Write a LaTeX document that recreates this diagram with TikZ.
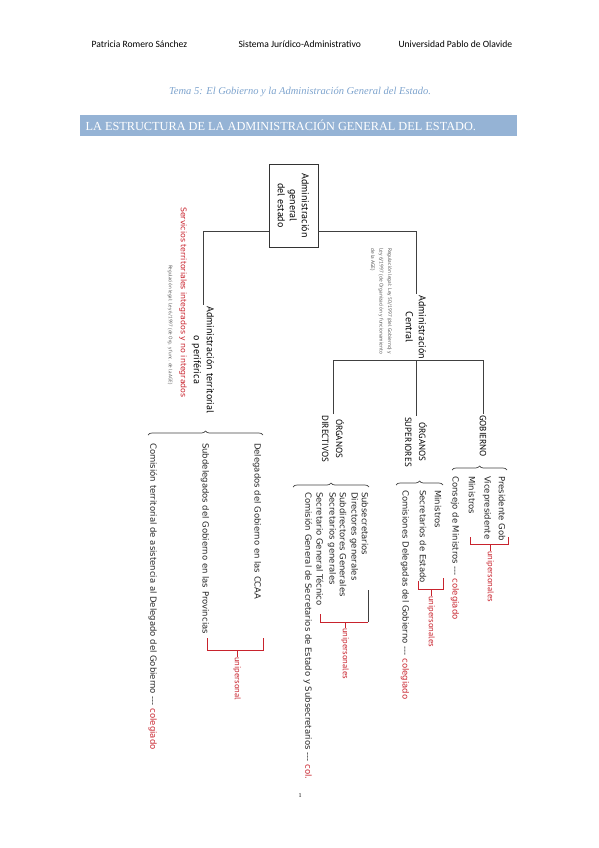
\documentclass[tikz,border=0pt]{standalone}
\usepackage{fontspec}
\setmainfont{Liberation Serif}
\newfontfamily\headfont{Carlito}
\newfontfamily\hand{PT Sans}
\newfontfamily\handw{DejaVu Sans}
\usetikzlibrary{decorations.pathreplacing}

\definecolor{inkred}{RGB}{200,35,45}
\definecolor{titleblue}{RGB}{125,163,205}
\definecolor{bannerblue}{RGB}{149,179,213}

\tikzstyle{line} = [draw=black!75, line width=0.8pt]
\tikzstyle{brc} = [draw=black!75, line width=0.7pt, decorate, decoration={brace, amplitude=4pt}]
\tikzstyle{redln} = [draw=inkred, line width=0.8pt]
\tikzstyle{hnode} = [rotate=-90, anchor=west, inner sep=1pt, align=center, font=\hand\fontsize{10}{13}\selectfont]
\tikzstyle{inode} = [rotate=-90, anchor=west, inner sep=0pt, text=black!85, font=\handw\fontsize{8.5}{10}\selectfont]
\tikzstyle{gnote} = [rotate=-90, anchor=west, inner sep=0pt, align=left, text=black!65, font=\hand\fontsize{5.3}{8.5}\selectfont]
\tikzstyle{rtext} = [rotate=-90, anchor=west, inner sep=0pt, text=inkred, font=\hand\fontsize{8.5}{10}\selectfont]

\begin{document}
\begin{tikzpicture}[x=1pt,y=-1pt]
\useasboundingbox (0,0) rectangle (599,848);

% page head
\node[anchor=west, font=\headfont\fontsize{9.6}{10}\selectfont] (author) at (88,44) {Patricia Romero Sánchez};
\node[anchor=west, font=\headfont\fontsize{9.6}{10}\selectfont] (subject) at (235,44) {Sistema Jurídico-Administrativo};
\node[anchor=west, font=\headfont\fontsize{9.6}{10}\selectfont] (univ) at (395,44) {Universidad Pablo de Olavide};
\node[text=titleblue, font=\itshape\fontsize{10.5}{12}\selectfont] (title) at (300,92) {Tema 5: El Gobierno y la Administración General del Estado.};
\node[fill=bannerblue, minimum width=437pt, minimum height=21pt, anchor=north west, inner sep=0pt] (banner) at (80,115) {};
\node[anchor=west, text=white, font=\fontsize{12.3}{13}\selectfont] (bannertxt) at (82,125.5) {LA ESTRUCTURA DE LA ADMINISTRACIÓN GENERAL DEL ESTADO.};

% tree
\node[draw=black!80, line width=0.8pt, rotate=-90, minimum width=83pt, minimum height=49pt, align=center, inner sep=1pt, font=\hand\fontsize{10}{12}\selectfont] (root) at (293.5,205.5) {Administración\\general\\del estado};
\coordinate (lv1) at (0,231);

\node[hnode] (terr) at (203,305) {Administración territorial\\o periférica};
\node[hnode] (central) at (416,294) {Administración\\Central};
\draw[line] (root.south |- lv1) -- (terr.west |- lv1) -- (terr.west);
\draw[line] (root.north |- lv1) -- (central.west |- lv1) -- (central.west);

\node[rtext, font=\handw\fontsize{7.8}{10}\selectfont] (servicios) at (183,207) {Servicios territoriales integrados y no integrados};
\node[gnote, font=\hand\fontsize{5}{8}\selectfont] (regT) at (170,265) {Regulación legal: Ley 6/1997 (de Org. y func. de la AGE)};
\node[gnote] (regC) at (381,248) {Regulación legal: Ley 50/1997 (del Gobierno) y\\Ley 6/1997 (de Organización y funcionamiento\\de la AGE)};

\node[hnode, font=\hand\fontsize{9}{13}\selectfont] (gob) at (483,414) {GOBIERNO};
\node[hnode, font=\hand\fontsize{9}{14}\selectfont] (sup) at (416,416) {ÓRGANOS\\SUPERIORES};
\node[hnode, font=\hand\fontsize{9}{14}\selectfont] (dir) at (333,414) {ÓRGANOS\\DIRECTIVOS};
\draw[line] (dir.west) |- (central.east) -| (gob.west);
\draw[line] (central.east) -- (sup.west);

% gobierno
\coordinate (gobL) at (452,470);
\coordinate (gobR) at (507,470);
\draw[brc] (gobL) -- (gobR);
\node[inode] (pres) at (502,476) {Presidente Gob};
\node[inode] (vice) at (487,476) {Vicepresidente};
\node[inode] (minA) at (472,476) {Ministros};
\node[inode] (consejo) at (455,476) {Consejo de Ministros --- {\color{inkred}colegiado}};
\draw[redln] (470,537) -- (470,544) -- (508,544) -- (508,537);
\node[rtext] (uniA) at (490,551) {unipersonales};
\draw[redln] (490,544) -- (uniA.west);

% organos superiores
\coordinate (supL) at (396,485);
\coordinate (supR) at (443,485);
\draw[brc] (supL) -- (supR);
\node[inode] (minB) at (438,490) {Ministros};
\node[inode] (secest) at (423,490) {Secretarios de Estado};
\node[inode] (comdel) at (405,490) {Comisiones Delegadas del Gobierno --- {\color{inkred}colegiado}};
\draw[redln] (418,581) -- (418,589) -- (443,589) -- (443,578);
\node[rtext] (uniB) at (431,596) {unipersonales};
\draw[redln] (431,589) -- (uniB.west);

% organos directivos
\coordinate (dirL) at (293,487);
\coordinate (dirR) at (369,487);
\draw[brc] (dirL) -- (dirR);
\node[inode] (subsec) at (365,492) {Subsecretarios};
\node[inode] (dirgen) at (354,492) {Directores generales};
\node[inode] (subdir) at (343,492) {Subdirectores Generales};
\node[inode] (secgen) at (332,492) {Secretarios generales};
\node[inode] (sgt) at (320,492) {Secretario General Técnico};
\node[inode] (comgen) at (308,492) {Comisión General de Secretarios de Estado y Subsecretarios --- {\color{inkred}col.}};
\draw[redln] (320,614) -- (320,622) -- (368,622);
\draw[line] (368,622) -- (368,590);
\node[rtext] (uniC) at (345,628) {unipersonales};
\draw[redln] (345,622) -- (uniC.west);

% territorial
\coordinate (terL) at (148,435);
\coordinate (terR) at (263,435);
\draw[brc] (terL) -- (terR);
\node[inode] (deleg) at (257,443) {Delegados del Gobierno en las CCAA};
\node[inode] (subdeleg) at (205,443) {Subdelegados del Gobierno en las Provincias};
\node[inode] (comter) at (153,443) {Comisión territorial de asistencia al Delegado del Gobierno --- {\color{inkred}colegiado}};
\draw[redln] (207,638) -- (207,650) -- (263,650) -- (263,638);
\node[rtext] (uniD) at (237,657) {unipersonal};
\draw[redln] (237,650) -- (uniD.west);

\node[font=\fontsize{6}{7}\selectfont] (pageno) at (300,796) {1};

\end{tikzpicture}
\end{document}
